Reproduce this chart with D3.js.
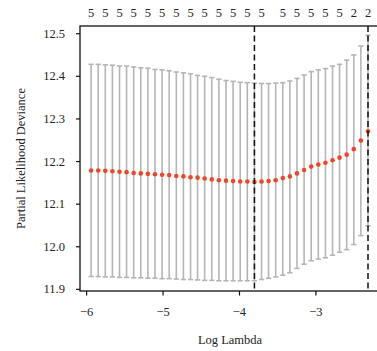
<!DOCTYPE html>
<html>
<head>
<meta charset="utf-8">
<script src="https://cdnjs.cloudflare.com/ajax/libs/d3/7.8.5/d3.min.js"></script>
<style>
    body { margin: 0; background: #fff; }
    svg { display: block; font-family: "Liberation Serif", "Times New Roman", serif; }
</style>
</head>
<body>
<script>
// log(lambda) path
const logLambda = [
    -5.935, -5.842, -5.749, -5.656, -5.563, -5.471, -5.378, -5.285, -5.192, -5.099,
    -5.006, -4.913, -4.820, -4.727, -4.634, -4.542, -4.449, -4.356, -4.263, -4.170,
    -4.077, -3.984, -3.891, -3.798, -3.705, -3.613, -3.520, -3.427, -3.334, -3.241,
    -3.148, -3.055, -2.962, -2.869, -2.776, -2.684, -2.591, -2.498, -2.405, -2.312
];
// mean cross-validated partial likelihood deviance
const cvm = [
    12.178, 12.178, 12.177, 12.176, 12.175, 12.174, 12.172, 12.171, 12.170, 12.169,
    12.168, 12.167, 12.165, 12.164, 12.162, 12.161, 12.159, 12.157, 12.155, 12.154,
    12.153, 12.152, 12.152, 12.151, 12.152, 12.153, 12.155, 12.160, 12.164, 12.171,
    12.179, 12.187, 12.192, 12.196, 12.202, 12.208, 12.215, 12.228, 12.248, 12.270
];
// upper / lower error bars
const cvup = [
    12.427, 12.427, 12.426, 12.425, 12.423, 12.423, 12.421, 12.419, 12.418, 12.415,
    12.414, 12.412, 12.409, 12.407, 12.405, 12.401, 12.399, 12.396, 12.392, 12.389,
    12.387, 12.385, 12.384, 12.383, 12.382, 12.382, 12.383, 12.384, 12.388, 12.394,
    12.402, 12.410, 12.414, 12.417, 12.423, 12.427, 12.437, 12.449, 12.470, 12.495
];
const cvlo = [
    11.929, 11.929, 11.928, 11.928, 11.927, 11.927, 11.926, 11.926, 11.925, 11.925,
    11.924, 11.924, 11.923, 11.922, 11.922, 11.921, 11.920, 11.920, 11.919, 11.919,
    11.919, 11.919, 11.919, 11.919, 11.922, 11.925, 11.928, 11.932, 11.938, 11.948,
    11.958, 11.966, 11.970, 11.973, 11.979, 11.986, 11.992, 12.004, 12.025, 12.048
];
// number of non-zero coefficients
const nzero = [
    5, 5, 5, 5, 5, 5, 5, 5, 5, 5,
    5, 5, 5, 5, 5, 5, 5, 5, 5, 5,
    5, 5, 5, 5, 5, 5, 5, 5, 5, 5,
    5, 5, 5, 5, 5, 5, 5, 2, 2, 2
];
// which of the top labels survive (overlapping ones are dropped)
const topLabelIdx = [0, 2, 4, 6, 8, 10, 12, 14, 16, 18, 20, 22, 24, 27, 29, 31, 33, 35, 37, 39];

const logLambdaMin = -3.798;
const logLambda1se = -2.312;

const xTicks = [-6, -5, -4, -3];
const yTicks = [11.9, 12.0, 12.1, 12.2, 12.3, 12.4, 12.5];

let width = 377;
let height = 351;
let marginTop = 26;
let marginLeft = 80;
let chartWidth = 300;
let chartHeight = 265;

window.addEventListener('load', () => {
    draw();
}, false);

function draw() {
    const svg = d3.select("body")
        .append("svg")
        .attr("width", width)
        .attr("height", height);

    svg.append("rect")
        .attr("width", width).attr("height", height)
        .attr("fill", "#fff");

    const xScale = d3.scaleLinear()
        .domain([-6.08, -2.155])
        .range([marginLeft, marginLeft + chartWidth]);
    const yScale = d3.scaleLinear()
        .domain([11.895, 12.517])
        .range([marginTop + chartHeight, marginTop]);

    const data = logLambda.map((l, i) => ({ l: l, m: cvm[i], up: cvup[i], lo: cvlo[i], nz: nzero[i] }));

    // error bars
    const bars = svg.append("g")
        .attr("stroke", "#b5b5b5")
        .attr("stroke-width", 1.6)
        .attr("fill", "none");
    bars.selectAll("line.bar")
        .data(data)
        .join("line")
        .attr("class", "bar")
        .attr("x1", d => xScale(d.l)).attr("x2", d => xScale(d.l))
        .attr("y1", d => yScale(d.up)).attr("y2", d => yScale(d.lo));
    bars.selectAll("line.capUp")
        .data(data)
        .join("line")
        .attr("class", "capUp")
        .attr("x1", d => xScale(d.l) - 2.6).attr("x2", d => xScale(d.l) + 2.6)
        .attr("y1", d => yScale(d.up)).attr("y2", d => yScale(d.up));
    bars.selectAll("line.capLo")
        .data(data)
        .join("line")
        .attr("class", "capLo")
        .attr("x1", d => xScale(d.l) - 2.6).attr("x2", d => xScale(d.l) + 2.6)
        .attr("y1", d => yScale(d.lo)).attr("y2", d => yScale(d.lo));

    // points
    svg.append("g")
        .selectAll("circle")
        .data(data)
        .join("circle")
        .attr("cx", d => xScale(d.l))
        .attr("cy", d => yScale(d.m))
        .attr("r", 2.3)
        .attr("fill", "#f0452a");

    // lambda.min / lambda.1se
    svg.append("g")
        .selectAll("line")
        .data([logLambdaMin, logLambda1se])
        .join("line")
        .attr("x1", d => xScale(d)).attr("x2", d => xScale(d))
        .attr("y1", marginTop).attr("y2", marginTop + chartHeight)
        .attr("stroke", "#111")
        .attr("stroke-width", 1.5)
        .attr("stroke-dasharray", "6,3.5");

    // box
    svg.append("rect")
        .attr("x", marginLeft).attr("y", marginTop)
        .attr("width", chartWidth).attr("height", chartHeight)
        .attr("fill", "none")
        .attr("stroke", "#111")
        .attr("stroke-width", 1.3);

    // axes
    const yAxis = svg.append("g")
        .attr("transform", "translate(" + marginLeft + ",0)")
        .call(d3.axisLeft(yScale).tickValues(yTicks).tickSize(4).tickPadding(11).tickFormat(d3.format(".1f")));
    const xAxis = svg.append("g")
        .attr("transform", "translate(0," + (marginTop + chartHeight) + ")")
        .call(d3.axisBottom(xScale).tickValues(xTicks).tickSize(4.5).tickPadding(12).tickFormat(d3.format("d")));
    [yAxis, xAxis].forEach(ax => {
        ax.select(".domain").remove();
        ax.selectAll(".tick line").attr("stroke", "#111").attr("stroke-width", 1.2);
        ax.selectAll("text")
            .attr("fill", "#222")
            .style("font-size", "12.5px")
            .style("font-family", "'Liberation Serif', 'Times New Roman', serif");
    });

    // nonzero counts along the top
    svg.append("g")
        .selectAll("text")
        .data(topLabelIdx.map(i => data[i]))
        .join("text")
        .attr("x", d => xScale(d.l))
        .attr("y", 17)
        .attr("text-anchor", "middle")
        .attr("fill", "#222")
        .style("font-size", "12.5px")
        .text(d => d.nz);

    // titles
    svg.append("text")
        .attr("x", marginLeft + chartWidth / 2)
        .attr("y", 344)
        .attr("text-anchor", "middle")
        .attr("fill", "#222")
        .style("font-size", "12.5px")
        .text("Log Lambda");
    svg.append("text")
        .attr("transform", "translate(21," + (marginTop + chartHeight / 2) + ") rotate(-90)")
        .attr("dy", "0.35em")
        .attr("text-anchor", "middle")
        .attr("fill", "#222")
        .style("font-size", "12.5px")
        .text("Partial Likelihood Deviance");
}
</script>
</body>
</html>
